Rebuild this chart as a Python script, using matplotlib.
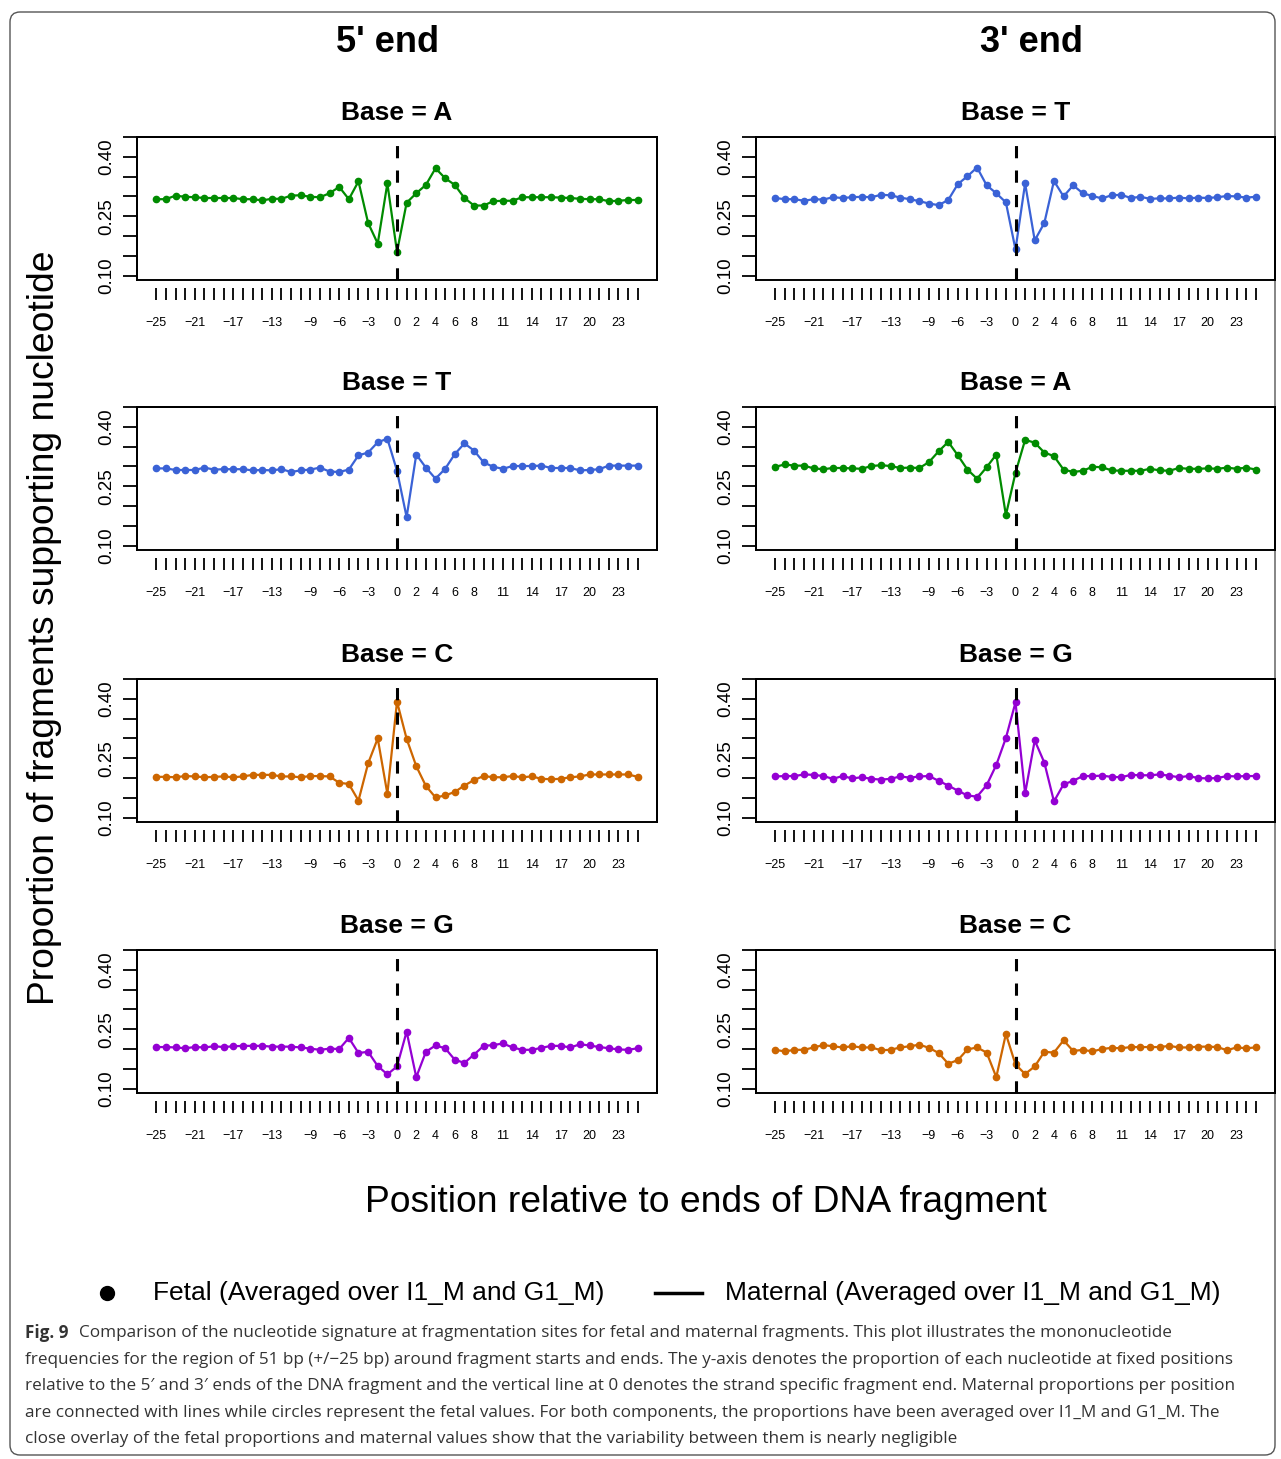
import numpy as np
import matplotlib
matplotlib.use("Agg")
import matplotlib.pyplot as plt
from matplotlib.patches import FancyBboxPatch, Rectangle

plt.rcParams['font.family'] = ['Liberation Sans', 'DejaVu Sans']

pos = np.arange(-25, 26)

a_5p = [0.293, 0.293, 0.302, 0.299, 0.298, 0.296, 0.296, 0.296, 0.296, 0.293, 0.293, 0.290, 0.294,
        0.294, 0.302, 0.303, 0.299, 0.298, 0.308, 0.324, 0.293, 0.338, 0.233, 0.181, 0.333, 0.160,
        0.284, 0.308, 0.329, 0.371, 0.346, 0.329, 0.296, 0.277, 0.277, 0.288, 0.289, 0.289, 0.298,
        0.298, 0.298, 0.298, 0.297, 0.296, 0.294, 0.293, 0.293, 0.288, 0.289, 0.291, 0.291]
t_3p = [0.296, 0.293, 0.293, 0.289, 0.293, 0.292, 0.298, 0.296, 0.298, 0.299, 0.298, 0.304, 0.303,
        0.297, 0.293, 0.288, 0.282, 0.278, 0.291, 0.331, 0.351, 0.373, 0.328, 0.308, 0.285, 0.166,
        0.333, 0.189, 0.233, 0.339, 0.300, 0.328, 0.308, 0.301, 0.295, 0.303, 0.304, 0.296, 0.299,
        0.294, 0.295, 0.295, 0.297, 0.295, 0.297, 0.296, 0.298, 0.301, 0.300, 0.297, 0.299]
t_5p = [0.295, 0.295, 0.291, 0.291, 0.291, 0.297, 0.292, 0.293, 0.293, 0.293, 0.290, 0.291, 0.290,
        0.293, 0.286, 0.290, 0.292, 0.297, 0.287, 0.286, 0.292, 0.328, 0.335, 0.361, 0.370, 0.289,
        0.172, 0.330, 0.297, 0.269, 0.294, 0.331, 0.358, 0.340, 0.310, 0.299, 0.294, 0.301, 0.301,
        0.301, 0.302, 0.296, 0.296, 0.296, 0.290, 0.291, 0.293, 0.302, 0.302, 0.302, 0.302]
a_3p = [0.299, 0.305, 0.302, 0.302, 0.295, 0.293, 0.296, 0.296, 0.295, 0.294, 0.301, 0.303, 0.301,
        0.296, 0.297, 0.296, 0.311, 0.338, 0.362, 0.328, 0.292, 0.269, 0.298, 0.330, 0.177, 0.284,
        0.367, 0.360, 0.335, 0.326, 0.292, 0.286, 0.289, 0.299, 0.298, 0.290, 0.289, 0.289, 0.289,
        0.294, 0.290, 0.289, 0.296, 0.294, 0.294, 0.295, 0.294, 0.297, 0.294, 0.297, 0.292]
c_5p = [0.203, 0.203, 0.202, 0.205, 0.204, 0.202, 0.203, 0.204, 0.202, 0.204, 0.208, 0.208, 0.208,
        0.204, 0.204, 0.202, 0.205, 0.205, 0.204, 0.188, 0.185, 0.143, 0.237, 0.300, 0.160, 0.393,
        0.299, 0.230, 0.180, 0.151, 0.156, 0.165, 0.181, 0.195, 0.205, 0.202, 0.202, 0.205, 0.202,
        0.204, 0.198, 0.197, 0.198, 0.202, 0.204, 0.209, 0.209, 0.209, 0.209, 0.209, 0.203]
g_3p = [0.204, 0.205, 0.205, 0.209, 0.208, 0.205, 0.198, 0.205, 0.199, 0.202, 0.198, 0.196, 0.198,
        0.204, 0.201, 0.204, 0.205, 0.193, 0.181, 0.168, 0.156, 0.153, 0.182, 0.233, 0.301, 0.391,
        0.161, 0.295, 0.239, 0.141, 0.184, 0.193, 0.205, 0.205, 0.206, 0.203, 0.202, 0.208, 0.207,
        0.207, 0.209, 0.206, 0.202, 0.205, 0.200, 0.199, 0.200, 0.205, 0.204, 0.205, 0.205]
g_5p = [0.205, 0.205, 0.204, 0.202, 0.205, 0.204, 0.207, 0.205, 0.207, 0.208, 0.208, 0.208, 0.206,
        0.206, 0.206, 0.204, 0.201, 0.198, 0.201, 0.200, 0.228, 0.190, 0.193, 0.157, 0.136, 0.156,
        0.244, 0.129, 0.193, 0.209, 0.202, 0.173, 0.165, 0.186, 0.208, 0.210, 0.214, 0.204, 0.198,
        0.198, 0.203, 0.208, 0.208, 0.204, 0.212, 0.209, 0.205, 0.202, 0.199, 0.198, 0.202]
c_3p = [0.198, 0.194, 0.198, 0.198, 0.204, 0.210, 0.207, 0.204, 0.207, 0.204, 0.204, 0.197, 0.198,
        0.204, 0.207, 0.211, 0.203, 0.190, 0.163, 0.172, 0.199, 0.204, 0.191, 0.129, 0.238, 0.161,
        0.137, 0.156, 0.193, 0.191, 0.222, 0.195, 0.198, 0.194, 0.200, 0.203, 0.202, 0.205, 0.205,
        0.205, 0.205, 0.208, 0.204, 0.204, 0.206, 0.206, 0.205, 0.197, 0.204, 0.202, 0.204]

green, blue, orange, purple = '#008B00', '#3A62D6', '#CD6600', '#9400D3'
panels = [
    [('A', a_5p, green), ('T', t_3p, blue)],
    [('T', t_5p, blue), ('A', a_3p, green)],
    [('C', c_5p, orange), ('G', g_3p, purple)],
    [('G', g_5p, purple), ('C', c_3p, orange)],
]
xlabs = [-25, -21, -17, -13, -9, -6, -3, 0, 2, 4, 6, 8, 11, 14, 17, 20, 23]

W, H = 1281, 1459
fig = plt.figure(figsize=(W / 100, H / 100), dpi=100)

# background overlay for border, titles and legend (pixel coords)
bg = fig.add_axes([0, 0, 1, 1], zorder=-1)
bg.set_xlim(0, W)
bg.set_ylim(H, 0)
bg.axis('off')
bg.add_patch(FancyBboxPatch((10, 12), 1265, 1443, boxstyle='round,pad=0,rounding_size=10',
                            fc='white', ec='#555555', lw=1))

tops = [137, 407, 679, 950]
lefts = [137, 756]
wpx = [520, 519]
hpx = 143
for r in range(4):
    for c in range(2):
        base, vals, col = panels[r][c]
        ax = fig.add_axes([lefts[c] / W, 1 - (tops[r] + hpx) / H, wpx[c] / W, hpx / H])
        ax.plot(pos, vals, '-o', color=col, lw=1.6, ms=4.5)
        ax.axvline(0, color='black', ls=(0, (4, 4)), lw=2.2)
        ax.set_xlim(-27, 27)
        ax.set_ylim(0.089, 0.45)
        ax.set_yticks(np.arange(0.10, 0.451, 0.05))
        ax.set_yticklabels(['0.10', '', '', '0.25', '', '', '0.40', ''], rotation=90, va='center')
        ax.set_xticks(pos)
        ax.set_xticklabels(['\u2212' + str(-p) if (p in xlabs and p < 0) else (str(p) if p in xlabs else '')
                            for p in pos])
        ax.tick_params(axis='x', length=8.5, width=1.3, pad=12, labelsize=9)
        ax.tick_params(axis='y', length=10, width=1.3, pad=6, labelsize=13.5)
        for s in ax.spines.values():
            s.set_linewidth(1.4)
        ax.spines['bottom'].set_position(('outward', 6))
        ax.spines['bottom'].set_visible(False)
        ax.add_patch(Rectangle((0, 0), 1, 1, transform=ax.transAxes, fill=False,
                               lw=1.4, ec='black', clip_on=False))
        ax.set_title('Base = ' + base, fontsize=19, fontweight='bold', pad=12)

bg.text(388, 42, "5' end", fontsize=26, fontweight='bold', ha='center', va='center')
bg.text(1032, 42, "3' end", fontsize=26, fontweight='bold', ha='center', va='center')
bg.text(45, 628, 'Proportion of fragments supporting nucleotide', fontsize=26.8,
        rotation=90, ha='center', va='center')
bg.text(706, 1203, 'Position relative to ends of DNA fragment', fontsize=26.8,
        ha='center', va='center')

bg.plot([107], [1293], 'o', color='black', ms=10)
bg.text(153, 1293, 'Fetal (Averaged over I1_M and G1_M)', fontsize=19, va='center')
bg.plot([655, 702], [1293, 1293], color='black', lw=2.5)
bg.text(725, 1293, 'Maternal (Averaged over I1_M and G1_M)', fontsize=19, va='center')

caption = [
    "Comparison of the nucleotide signature at fragmentation sites for fetal and maternal fragments. This plot illustrates the mononucleotide",
    "frequencies for the region of 51 bp (+/\u221225 bp) around fragment starts and ends. The y-axis denotes the proportion of each nucleotide at fixed positions",
    "relative to the 5\u2032 and 3\u2032 ends of the DNA fragment and the vertical line at 0 denotes the strand specific fragment end. Maternal proportions per position",
    "are connected with lines while circles represent the fetal values. For both components, the proportions have been averaged over I1_M and G1_M. The",
    "close overlay of the fetal proportions and maternal values show that the variability between them is nearly negligible",
]
cfont = ['Open Sans', 'DejaVu Sans']
bg.text(25, 1333, 'Fig. 9', fontsize=12.3, fontweight='bold', family=cfont, color='#333333', va='center')
for i, line in enumerate(caption):
    x = 79 if i == 0 else 25
    bg.text(x, 1333 + i * 26.6, line, fontsize=12.3, family=cfont, color='#333333', va='center')

fig.savefig('out.png', dpi=100)
